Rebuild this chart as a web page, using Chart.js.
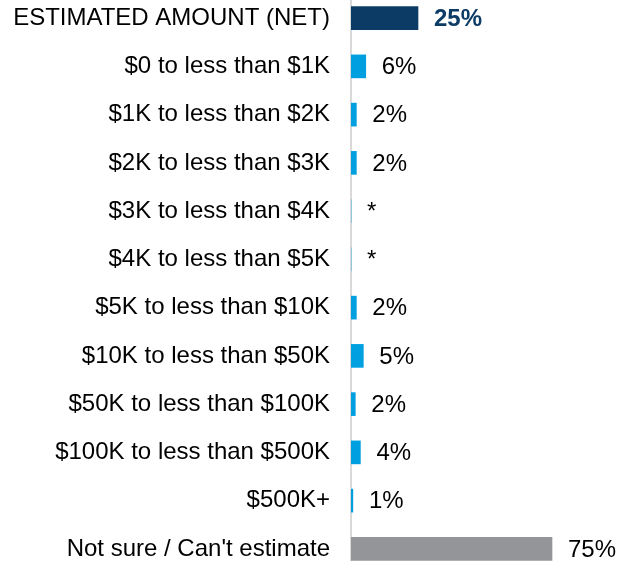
<!DOCTYPE html>
<html>
<head>
<meta charset="utf-8">
<script src="https://cdn.jsdelivr.net/npm/chart.js@4"></script>
<style>
  html, body { margin:0; padding:0; background:#fff; overflow:hidden; }
  #wrap { position:absolute; left:0; top:-6px; width:625px; height:579px; }
</style>
</head>
<body>
<div id="wrap"><canvas id="myChart"></canvas></div>
<script>
// categories, bar lengths and the printed labels
const categories = ['ESTIMATED AMOUNT (NET)', '$0 to less than $1K', '$1K to less than $2K',
  '$2K to less than $3K', '$3K to less than $4K', '$4K to less than $5K', '$5K to less than $10K',
  '$10K to less than $50K', '$50K to less than $100K', '$100K to less than $500K', '$500K+',
  "Not sure / Can't estimate"];
const values = [25, 5.5, 2, 2, 0, 0, 2, 4.6, 1.6, 3.5, 0.7, 75];
const valueLabels = ['25%', '6%', '2%', '2%', '*', '*', '2%', '5%', '2%', '4%', '1%', '75%'];
const barColors = ['#0c3c66', '#00a0e0', '#00a0e0', '#00a0e0', '#00a0e0', '#00a0e0', '#00a0e0',
  '#00a0e0', '#00a0e0', '#00a0e0', '#00a0e0', '#939598'];

const FONT = 'Arial, "Liberation Sans", sans-serif';

// draws the % text right of every bar
const valueText = {
  id: 'valueText',
  afterDatasetsDraw(chart) {
    const ctx = chart.ctx;
    const meta = chart.getDatasetMeta(0);
    ctx.save();
    ctx.textAlign = 'left';
    ctx.textBaseline = 'middle';
    meta.data.forEach((bar, i) => {
      const first = i === 0;
      ctx.font = (first ? 'bold ' : '') + '24px ' + FONT;
      ctx.fillStyle = first ? '#0c3c66' : '#000';
      ctx.fillText(valueLabels[i], bar.x + 16, bar.y + 1);
    });
    ctx.restore();
  }
};

const ctx = document.getElementById('myChart').getContext('2d');

const myChart = new Chart(ctx, {
  type: 'bar',
  data: {
    labels: categories,
    datasets: [{
      data: values,
      backgroundColor: barColors,
      barThickness: 23,
      borderWidth: 0
    }]
  },
  options: {
    indexAxis: 'y',
    responsive: true,
    maintainAspectRatio: false,
    animation: false,
    layout: { padding: { left: 0, right: 6, top: 0, bottom: 0 } },
    plugins: {
      legend: { display: false },
      tooltip: { enabled: false }
    },
    scales: {
      x: {
        display: false,
        min: 0,
        max: 100
      },
      y: {
        afterFit(scale) {
          scale.width = 351;
          scale.paddingTop = 0;   // no extra room for first/last label
          scale.paddingBottom = 0;
        },
        grid: { display: false, drawTicks: false },
        border: { display: true, color: '#d9d9d9', width: 2 },
        ticks: {
          padding: 21,
          color: '#000',
          font: { family: FONT, size: 24 }
        }
      }
    }
  },
  plugins: [valueText]
});
</script>
</body>
</html>
